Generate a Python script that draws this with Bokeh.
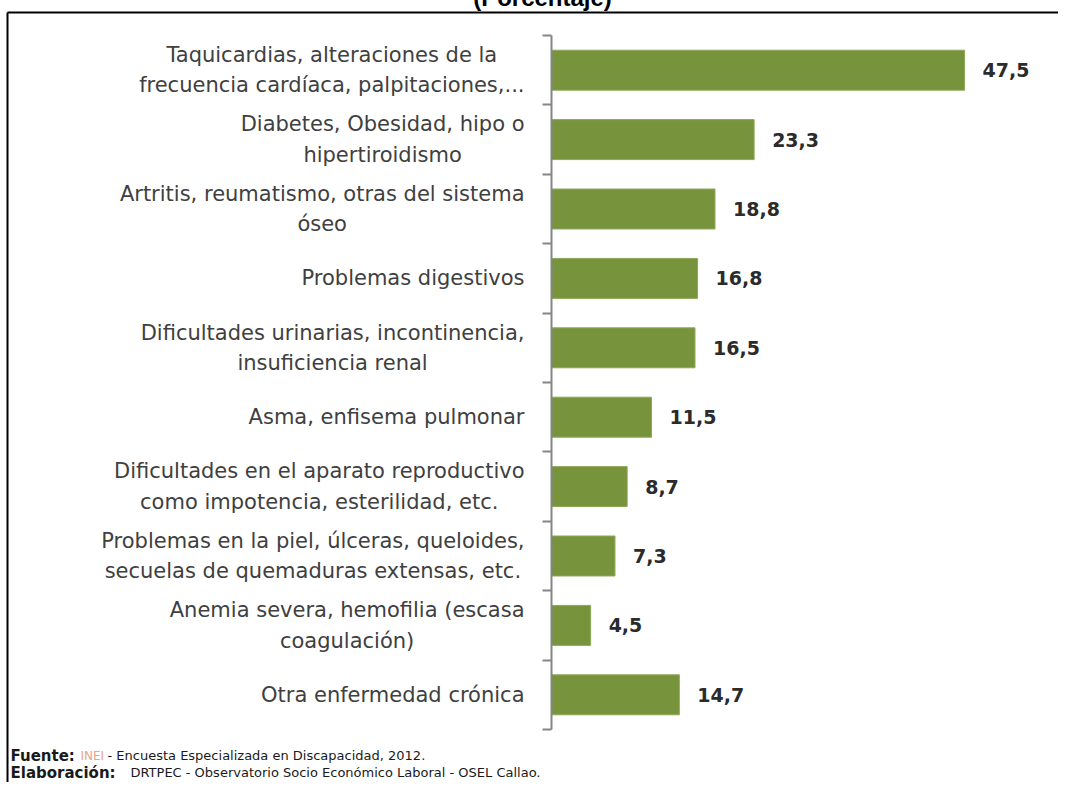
from bokeh.plotting import figure
from bokeh.models import Range1d, FixedTicker
from bokeh.core.properties import value
from bokeh.embed import file_html
from bokeh.resources import INLINE

# ---- data (top to bottom) ----
categories = [
    "Taquicardias, alteraciones de la\nfrecuencia cardíaca, palpitaciones,...",
    "Diabetes, Obesidad, hipo o\nhipertiroidismo",
    "Artritis, reumatismo, otras del sistema\nóseo",
    "Problemas digestivos",
    "Dificultades urinarias, incontinencia,\ninsuficiencia renal",
    "Asma, enfisema pulmonar",
    "Dificultades en el aparato reproductivo\ncomo impotencia, esterilidad, etc.",
    "Problemas en la piel, úlceras, queloides,\nsecuelas de quemaduras extensas, etc.",
    "Anemia severa, hemofilia (escasa\ncoagulación)",
    "Otra enfermedad crónica",
]
values = [47.5, 23.3, 18.8, 16.8, 16.5, 11.5, 8.7, 7.3, 4.5, 14.7]
title_text = "(Porcentaje)"
source_label = "Fuente:"
source_org = "INEI"
source_rest = "- Encuesta Especializada en Discapacidad,  2012."
elab_label = "Elaboración:"
elab_rest = "DRTPEC - Observatorio Socio Económico Laboral  - OSEL Callao."

n = len(categories)
centers = [i + 0.5 for i in range(n)]
bounds = list(range(n + 1))
value_text = [f"{v:.1f}".replace(".", ",") for v in values]

BAR = "#77933C"
AXIS = "#868686"
TXT = "#404040"

# layout (canvas pixels)
W, H = 1058, 782
FL, FR, FT, FB = 551, 1038, 35, 729
XMAX = 56

p = figure(
    width=W, height=H, output_backend="svg", toolbar_location=None,
    x_range=Range1d(0, XMAX), y_range=Range1d(n, 0),
    x_axis_location=None,
    min_border_left=FL, min_border_right=W - FR, min_border_top=FT, min_border_bottom=H - FB,
    margin=(0, 0, 0, 0),
)
p.outline_line_color = None
p.grid.visible = False
p.background_fill_color = "white"
p.border_fill_color = "white"

ax = p.yaxis[0]
ax.ticker = FixedTicker(ticks=[], minor_ticks=bounds)
ax.major_tick_out = 0
ax.major_tick_in = 0
ax.minor_tick_out = 9
ax.minor_tick_in = 0
ax.minor_tick_line_color = AXIS
ax.minor_tick_line_width = 2
ax.axis_line_color = AXIS
ax.axis_line_width = 2

p.hbar(y=centers, left=0, right=values, height=0.576, fill_color=BAR,
       line_color="#8DA85A", line_width=1)

p.text(x=values, y=centers, text=value_text, x_offset=18, text_baseline="middle",
       text_align="left", text_font=value("DejaVu Sans"), text_font_size="19px",
       text_font_style="bold", text_color="#2b2b2b")

p.text(x=0, y=centers, text=categories, x_offset=-27, anchor="center_right",
       text_align="center", text_baseline="middle", text_line_height=1.27,
       text_font=value("DejaVu Sans"), text_font_size="21px", text_color=TXT,
       level="annotation")

# title (cut at the top of the page)
p.text(x=0, y=0, text=[title_text], x_offset=542 - FL, y_offset=-3 - FT, text_align="center",
       text_baseline="alphabetic", text_font=value("Liberation Sans"),
       text_font_size="24px", text_font_style="bold", text_color="black",
       level="annotation")

# footer
def foot(px, py, t, size, color="#1a1a1a", bold=False):
    p.text(x=0, y=n, text=[t], x_offset=px - FL, y_offset=py - FB, text_align="left",
           text_baseline="middle", text_font=value("DejaVu Sans"),
           text_font_size=size, text_font_style="bold" if bold else "normal",
           text_color=color, level="annotation")

foot(10, 755, source_label, "15px", bold=True)
foot(80, 755, source_org, "12px", color="#E8A48A")
foot(107, 755, source_rest, "13px")
foot(10, 772, elab_label, "15px", bold=True)
foot(130, 772, elab_rest, "13px")

# frame lines (top and left border of the picture box)
px_per_x = (FR - FL) / XMAX
px_per_y = (FB - FT) / n
def xd(px):
    return (px - FL) / px_per_x
def yd(py):
    return (py - FT) / px_per_y

p.multi_line(xs=[[xd(7), xd(W + 10)], [xd(7), xd(7)]],
             ys=[[yd(12), yd(12)], [yd(12), yd(H + 10)]],
             line_color="black", line_width=2, level="annotation")

open("out.html", "w").write(file_html(p, INLINE))
